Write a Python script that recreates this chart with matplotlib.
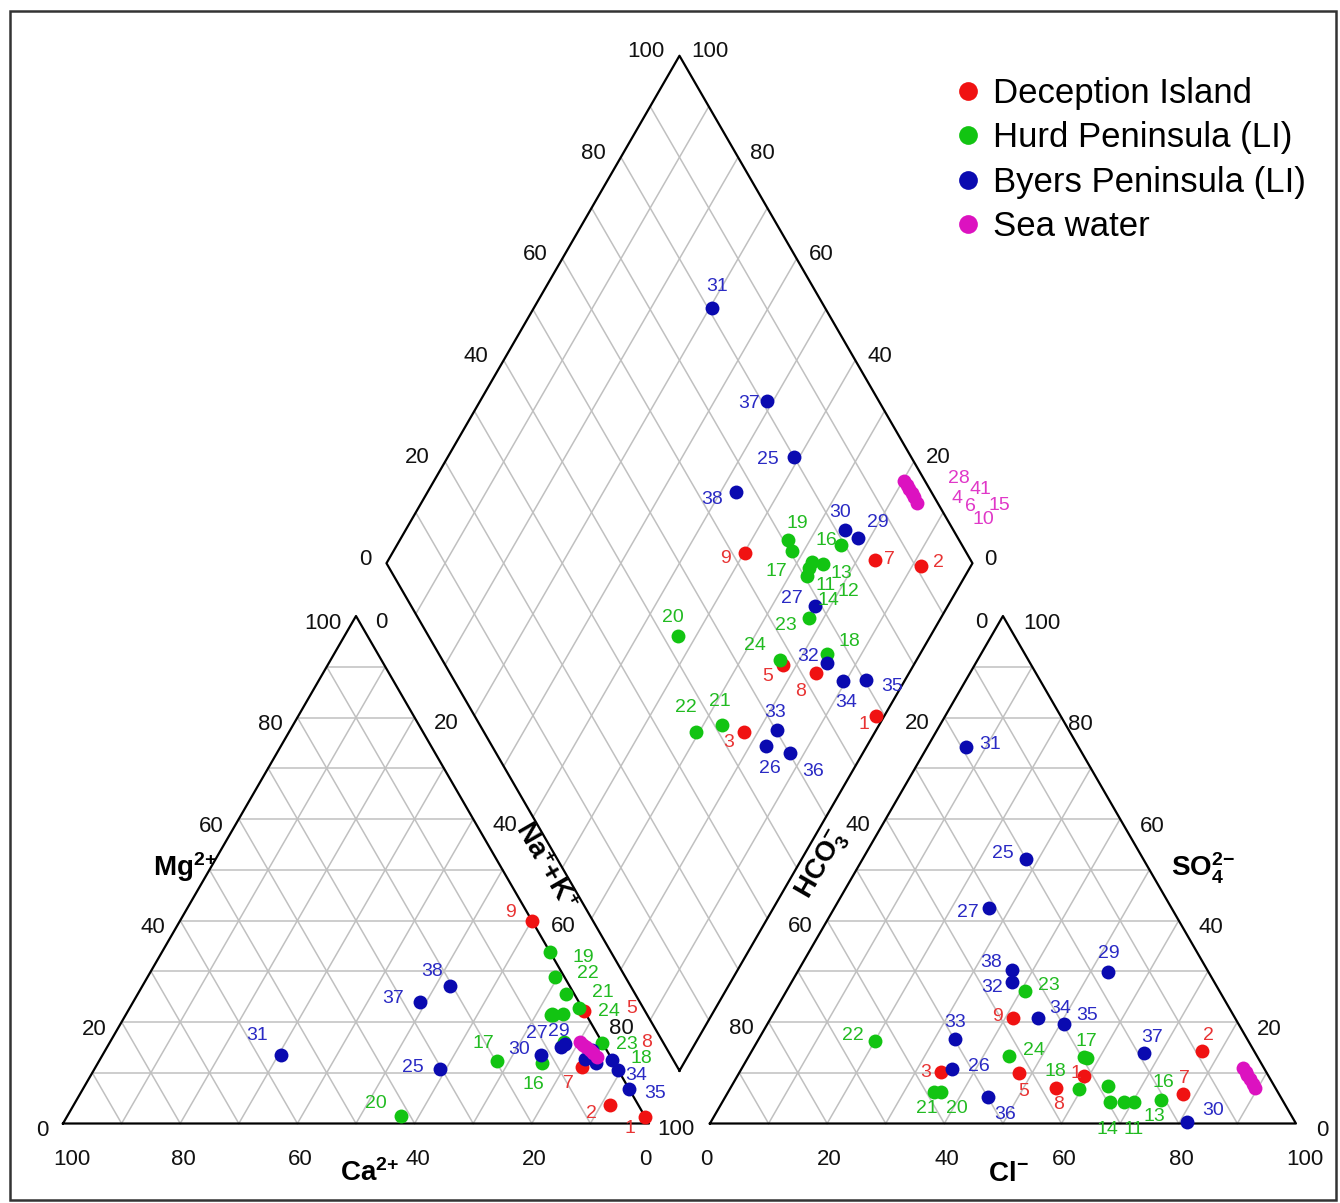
import numpy as np
import matplotlib.pyplot as plt
from matplotlib.lines import Line2D
from matplotlib.patches import Rectangle

plt.rcParams['font.family'] = ['Liberation Sans', 'DejaVu Sans']
plt.rcParams['mathtext.fontset'] = 'custom'
plt.rcParams['mathtext.rm'] = 'Liberation Sans'
plt.rcParams['mathtext.bf'] = 'Liberation Sans:bold'
plt.rcParams['mathtext.it'] = 'Liberation Sans:italic'

# ---------------- data (meq %) ----------------
groups = ['Deception Island', 'Hurd Peninsula (LI)', 'Byers Peninsula (LI)', 'Sea water']
colors = ['#f01212', '#12c412', '#0a0ab0', '#dc12c0']
text_colors = ['#e83434', '#22bb22', '#2a2ac4', '#e038c8']

dec_ids = [1, 2, 3, 5, 7, 8, 9]
dec_ca = [0.1, 4.8, 6.7, 0.0, 5.8, 2.8, 0.0]
dec_mg = [1.3, 3.6, 15.6, 22.2, 11.2, 13.0, 39.9]
dec_nak = [98.6, 91.6, 77.7, 77.8, 83.0, 84.2, 60.1]
dec_hco3 = [31.5, 9.0, 55.6, 42.3, 16.4, 37.5, 37.8]
dec_so4 = [9.4, 14.2, 10.1, 10.0, 5.8, 7.0, 20.8]
dec_cl = [59.1, 76.8, 34.3, 47.7, 77.8, 55.5, 41.4]

hurd_ids = [11, 12, 13, 14, 16, 17, 18, 19, 20, 21, 22, 23, 24]
hurd_ca = [5.8, 6.0, 4.0, 5.6, 12.3, 19.7, 0.0, 0.0, 41.5, 1.4, 1.6, 6.4, 0.6]
hurd_mg = [21.6, 21.4, 21.5, 21.4, 12.0, 12.4, 15.9, 33.7, 1.5, 25.5, 28.9, 16.1, 22.8]
hurd_nak = [72.6, 72.6, 74.5, 73.0, 75.7, 67.9, 84.1, 66.3, 57.0, 73.1, 69.5, 77.5, 76.6]
hurd_hco3 = [27.2, 28.3, 25.6, 29.6, 20.7, 29.6, 33.7, 29.1, 57.4, 58.7, 63.7, 33.2, 42.4]
hurd_so4 = [4.2, 7.4, 4.2, 4.2, 4.6, 13.2, 6.8, 13.0, 6.3, 6.3, 16.3, 26.1, 13.3]
hurd_cl = [68.6, 64.3, 70.2, 66.2, 74.7, 57.2, 59.5, 57.9, 36.3, 35.0, 20.0, 40.7, 44.3]

byers_ids = [25, 26, 27, 29, 30, 31, 32, 33, 34, 35, 36, 37, 38]
byers_ca = [30.3, 4.5, 7.5, 6.5, 11.6, 56.1, 3.1, 2.5, 0.0, 0.0, 0.0, 27.0, 20.4]
byers_mg = [10.7, 12.8, 15.1, 15.6, 13.5, 13.4, 11.9, 14.5, 10.5, 6.7, 12.5, 24.0, 27.0]
byers_nak = [59.0, 82.7, 77.4, 77.9, 74.9, 30.5, 85.0, 83.0, 89.5, 93.3, 87.5, 49.0, 52.6]
byers_hco3 = [20.0, 53.3, 31.1, 17.1, 18.5, 19.3, 34.6, 49.8, 33.7, 29.8, 49.9, 19.0, 33.3]
byers_so4 = [52.1, 10.7, 42.4, 29.9, 0.2, 74.1, 27.8, 16.6, 20.7, 19.6, 5.2, 13.8, 30.3]
byers_cl = [27.9, 36.0, 26.5, 53.0, 81.3, 6.6, 37.6, 33.6, 45.6, 50.6, 44.9, 67.2, 36.4]

sea_ids = [28, 41, 4, 15, 6, 10]
sea_ca = [3.7, 3.5, 3.2, 2.9, 2.6, 2.2]
sea_mg = [16.0, 15.5, 15.0, 14.4, 13.8, 13.2]
sea_nak = [80.3, 81.0, 81.8, 82.7, 83.6, 84.6]
sea_hco3 = [3.5, 3.5, 3.6, 3.5, 3.4, 3.5]
sea_so4 = [10.9, 10.2, 9.5, 8.7, 7.8, 6.9]
sea_cl = [85.6, 86.3, 86.9, 87.8, 88.8, 89.6]

series = [
    (dec_ids, dec_ca, dec_mg, dec_nak, dec_hco3, dec_so4, dec_cl),
    (hurd_ids, hurd_ca, hurd_mg, hurd_nak, hurd_hco3, hurd_so4, hurd_cl),
    (byers_ids, byers_ca, byers_mg, byers_nak, byers_hco3, byers_so4, byers_cl),
    (sea_ids, sea_ca, sea_mg, sea_nak, sea_hco3, sea_so4, sea_cl),
]

# label offsets in pixels (dx right, dy down); samples missing here are not labelled
cat_labels = {1: (-15, 12), 2: (-19, 8), 5: (48, -2), 7: (-14, 17), 8: (52, -15), 9: (-22, -9),
              16: (-8, 22), 17: (-14, -17), 18: (39, 16), 19: (33, 5), 20: (-26, -12), 21: (37, -2),
              22: (33, -3), 23: (63, 3), 24: (30, 4), 25: (-27, -2), 27: (-24, -13), 29: (-6, -13),
              30: (-22, -5), 31: (-24, -20), 34: (18, 5), 35: (26, 4), 37: (-27, -3), 38: (-18, -15)}
an_labels = {1: (-8, -2), 2: (7, -16), 3: (-15, 0), 5: (5, 19), 7: (2, -16), 8: (3, 17), 9: (-16, -1),
             11: (9, 27), 13: (21, 14), 14: (-3, 27), 16: (2, -18), 17: (3, -15), 18: (-23, -17),
             20: (16, 17), 21: (-7, 17), 22: (-22, -5), 23: (24, -6), 24: (25, -6), 25: (-23, -6),
             26: (27, -3), 27: (-22, 4), 29: (1, -18), 30: (26, -12), 31: (24, -3), 32: (-20, 5),
             33: (0, -17), 34: (22, -10), 35: (23, -9), 36: (17, 17), 37: (8, -16), 38: (-21, -7)}
dia_labels = {1: (-12, 9), 2: (17, -4), 3: (-16, 10), 5: (-16, 11), 7: (15, -1), 8: (-16, 18), 9: (-19, 6),
              11: (13, 23), 12: (39, 24), 13: (19, 10), 14: (22, 24), 16: (-14, -4), 17: (-15, 21),
              18: (22, -12), 19: (9, -16), 20: (-5, -19), 21: (-2, -23), 22: (-11, -24), 23: (-23, 8),
              24: (-25, -14), 25: (-26, 3), 26: (4, 23), 27: (-23, -8), 29: (20, -15), 30: (-5, -17),
              31: (5, -22), 32: (-19, -6), 33: (-2, -17), 34: (3, 22), 35: (27, 6), 36: (23, 18),
              37: (-18, 3), 38: (-24, 8), 28: (54, -3), 41: (74, 5), 4: (48, 9), 15: (88, 12),
              6: (56, 9), 10: (66, 17)}

# ---------------- geometry ----------------
G = 10.4            # gap between the two triangles (side = 100)
H = np.sqrt(3) / 2


def cation_xy(mg, nak):
    mg, nak = np.asarray(mg, float), np.asarray(nak, float)
    return nak + mg / 2, mg * H


def anion_xy(so4, cl):
    so4, cl = np.asarray(so4, float), np.asarray(cl, float)
    return 100 + G + cl + so4 / 2, so4 * H


def diamond_xy(nak, hco3):
    nak, hco3 = np.asarray(nak, float), np.asarray(hco3, float)
    return 100 + G / 2 + (nak - hco3) / 2, G * H + H * (200 - nak - hco3)


fig = plt.figure(figsize=(13.4, 12.03), dpi=100)
ax = fig.add_axes([0, 0, 1, 1])
ax.set_xlim(-63 / 5.86, (1340 - 63) / 5.86)
ax.set_ylim(-(1203 - 1123.5) / 5.86, 1123.5 / 5.86)
ax.axis('off')

grid_kw = dict(color='#c0c0c0', lw=1.1, zorder=1)
edge_kw = dict(color='black', lw=1.6, zorder=2)


def seg(f, a, b, **kw):
    x, y = f(*zip(a, b))
    ax.plot(x, y, **kw)


for k in range(10, 100, 10):
    seg(cation_xy, (k, 0), (k, 100 - k), **grid_kw)
    seg(cation_xy, (0, k), (100 - k, k), **grid_kw)
    seg(cation_xy, (0, 100 - k), (100 - k, 0), **grid_kw)
    seg(anion_xy, (k, 0), (k, 100 - k), **grid_kw)
    seg(anion_xy, (0, k), (100 - k, k), **grid_kw)
    seg(anion_xy, (0, 100 - k), (100 - k, 0), **grid_kw)
    seg(diamond_xy, (k, 0), (k, 100), **grid_kw)
    seg(diamond_xy, (0, k), (100, k), **grid_kw)

for f, pts in [(cation_xy, [(0, 0), (0, 100), (100, 0), (0, 0)]),
               (anion_xy, [(0, 0), (0, 100), (100, 0), (0, 0)]),
               (diamond_xy, [(100, 100), (0, 100), (0, 0), (100, 0), (100, 100)])]:
    x, y = f(*zip(*pts))
    ax.plot(x, y, **edge_kw)


def tick(xy, val, dx, dy, ha):
    ax.annotate(str(val), xy, xytext=(dx, -dy), textcoords='offset pixels',
                ha=ha, va='center', fontsize=16, color='#111111')


for v in [0, 20, 40, 60, 80, 100]:
    tick(cation_xy(0, 100 - v), v, -9.5, 36, 'left')           # Ca2+
    tick(cation_xy(v, 0), v, -15, 7, 'right')                   # Mg2+
    if v < 100:
        tick(cation_xy(100 - v, v), v, 19, 6, 'left')           # Na+ + K+
    tick(anion_xy(100 - v, 0), v, -15, 6, 'right')              # HCO3-
    tick(anion_xy(0, v), v, -10, 36, 'left')                    # Cl-
    tick(anion_xy(v, 100 - v), v, 6 if v == 80 else 20, 7, 'left')  # SO4 2-
    tick(diamond_xy(0, 100 - v), v, -15, -4, 'right')
    tick(diamond_xy(100 - v, 0), v, 12, -4, 'left')

# ---------------- samples ----------------
for gi, (ids, ca, mg, nak, hco3, so4, cl) in enumerate(series):
    ca, mg, nak = np.array(ca), np.array(mg), np.array(nak)
    hco3, so4, cl = np.array(hco3), np.array(so4), np.array(cl)
    ct = ca + mg + nak
    at = hco3 + so4 + cl
    mg_p, nak_p = 100 * mg / ct, 100 * nak / ct
    hco3_p, so4_p, cl_p = 100 * hco3 / at, 100 * so4 / at, 100 * cl / at
    pos = [cation_xy(mg_p, nak_p), anion_xy(so4_p, cl_p), diamond_xy(nak_p, hco3_p)]
    for (x, y), labs in zip(pos, [cat_labels, an_labels, dia_labels]):
        ax.scatter(x, y, s=100, color=colors[gi], lw=0, zorder=3 + gi)
        for i, sid in enumerate(ids):
            if sid in labs:
                dx, dy = labs[sid]
                ax.annotate(str(sid), (x[i], y[i]), xytext=(dx, -dy), textcoords='offset pixels',
                            ha='center', va='center', fontsize=14, color=text_colors[gi], zorder=8)

# ---------------- axis titles ----------------
def fxy(px, py):
    return px / 1340, 1 - py / 1203


title_kw = dict(fontsize=20, color='black')
fig.text(*fxy(185, 876), r'$\mathbf{Mg^{2{+}}}$', ha='center', va='baseline', **title_kw)
fig.text(*fxy(370, 1181), r'$\mathbf{Ca^{2{+}}}$', ha='center', va='baseline', **title_kw)
fig.text(*fxy(1008, 1181), r'$\mathbf{Cl^{-}}$', ha='center', va='baseline', **title_kw)
fig.text(*fxy(1203, 876), r'$\mathbf{SO_4^{2{-}}}$', ha='center', va='baseline', **title_kw)
fig.text(*fxy(545, 866), r'$\mathbf{Na^{+}{+}K^{+}}$', ha='center', va='center',
         rotation=-60, rotation_mode='anchor', **title_kw)
fig.text(*fxy(822, 865), r'$\mathbf{HCO_3^{-}}$', ha='center', va='center',
         rotation=60, rotation_mode='anchor', **title_kw)

# ---------------- legend ----------------
handles = [Line2D([], [], ls='', marker='o', markersize=13.5, markeredgewidth=0, color=c)
           for c in colors]
ax.legend(handles, groups, loc='upper left', bbox_to_anchor=fxy(954, 77),
          bbox_transform=fig.transFigure, frameon=False, fontsize=25,
          handlelength=0.8, handletextpad=0.32, labelspacing=0.33, borderpad=0, borderaxespad=0)

fig.patches.append(Rectangle(fxy(10, 1200), 1326 / 1340, 1189 / 1203, transform=fig.transFigure,
                             fill=False, ec='#333333', lw=1.8))

fig.savefig('out.png', dpi=100)
